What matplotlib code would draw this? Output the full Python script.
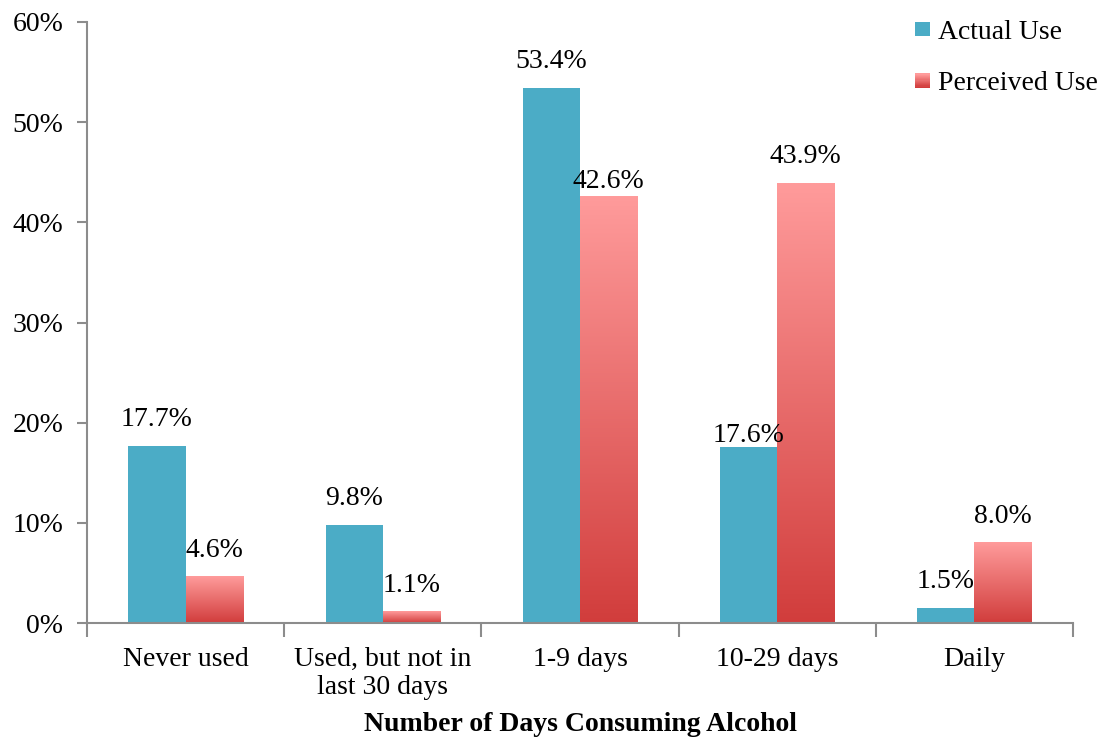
import numpy as np
import matplotlib
matplotlib.use("Agg")
import matplotlib.pyplot as plt
from matplotlib.colors import LinearSegmentedColormap
from matplotlib.patches import Rectangle
from matplotlib.legend_handler import HandlerBase

categories = ["Never used", "Used, but not in\nlast 30 days", "1-9 days", "10-29 days", "Daily"]
actual_use = [17.7, 9.8, 53.4, 17.6, 1.5]
perceived_use = [4.6, 1.1, 42.6, 43.9, 8.0]
series_names = ["Actual Use", "Perceived Use"]
y_ticks = [0, 10, 20, 30, 40, 50, 60]
x_title = "Number of Days Consuming Alcohol"

TEAL = "#4BACC6"
PINK_TOP = "#FF9B9B"
RED_BOTTOM = "#D13D3C"
AXIS_GRAY = "#8C8C8C"
FONT = "Liberation Serif"

plt.rcParams["font.family"] = [FONT, "DejaVu Serif"]

grad_cmap = LinearSegmentedColormap.from_list("perceived", [RED_BOTTOM, PINK_TOP])
grad = np.linspace(0, 1, 256).reshape(-1, 1)

fig = plt.figure(figsize=(11.03, 7.40), dpi=100)
ax = fig.add_axes([0.0789, 0.158, 0.8939, 0.8123])

x = np.arange(len(categories))
w = 0.29

ax.bar(x - w / 2, actual_use, width=w, color=TEAL, zorder=2)
# gradient-filled bars for the second series
for xi, v in zip(x, perceived_use):
    ax.imshow(grad, extent=[xi, xi + w, 0, v], origin="lower", cmap=grad_cmap,
              aspect="auto", zorder=2, interpolation="bilinear")

ax.set_xlim(-0.5, len(categories) - 0.5)
ax.set_ylim(0, 60)

# value labels above each bar
fs = 20
lift = {(0, 3): -1, (1, 2): 2}
for si, (vals, off) in enumerate([(actual_use, -w / 2), (perceived_use, w / 2)]):
    for ci, v in enumerate(vals):
        ax.annotate(f"{v:.1f}%", (x[ci] + off, v), xytext=(0, lift.get((si, ci), 10)),
                    textcoords="offset points", ha="center", va="bottom",
                    fontsize=fs, color="black", zorder=3)

# axes styling
for s in ["top", "right"]:
    ax.spines[s].set_visible(False)
for s in ["left", "bottom"]:
    ax.spines[s].set_color(AXIS_GRAY)
    ax.spines[s].set_linewidth(1.5)

ax.set_yticks(y_ticks)
ax.set_yticklabels([f"{t}%" for t in y_ticks], fontsize=fs)
ax.tick_params(axis="y", direction="out", length=7, width=1.5, color=AXIS_GRAY, pad=10)

ax.set_xticks(x)
ax.set_xticklabels(categories, fontsize=fs, linespacing=1.2)
ax.tick_params(axis="x", which="major", length=0, pad=17)
ax.set_xticks(np.arange(-0.5, len(categories), 1.0), minor=True)
ax.tick_params(axis="x", which="minor", direction="out", length=10, width=1.5, color=AXIS_GRAY)

ax.set_xlabel(x_title, fontsize=fs, fontweight="bold", labelpad=8)


class GradientHandler(HandlerBase):
    def create_artists(self, legend, orig_handle, xdescent, ydescent, width, height, fontsize, trans):
        n = 12
        side = 10.5
        x0 = xdescent + width - side
        y0 = -ydescent + (height - side) / 2
        arts = []
        for i in range(n):
            c = grad_cmap(i / (n - 1))
            r = Rectangle((x0, y0 + side * i / n), side, side / n + 0.2,
                          facecolor=c, edgecolor="none", transform=trans)
            arts.append(r)
        return arts


class SquareHandler(HandlerBase):
    def create_artists(self, legend, orig_handle, xdescent, ydescent, width, height, fontsize, trans):
        side = 10.5
        r = Rectangle((xdescent + width - side, -ydescent + (height - side) / 2), side, side,
                      facecolor=TEAL, edgecolor="none", transform=trans)
        return [r]


h_actual = Rectangle((0, 0), 1, 1)
h_perc = Rectangle((0, 0), 1, 1)
leg = fig.legend([h_actual, h_perc], series_names, loc="upper right",
                 bbox_to_anchor=(1.018, 1.008), frameon=False, fontsize=fs,
                 handler_map={h_actual: SquareHandler(), h_perc: GradientHandler()},
                 handlelength=0.55, handletextpad=0.3, labelspacing=0.95)

fig.savefig("out.png", dpi=100)
